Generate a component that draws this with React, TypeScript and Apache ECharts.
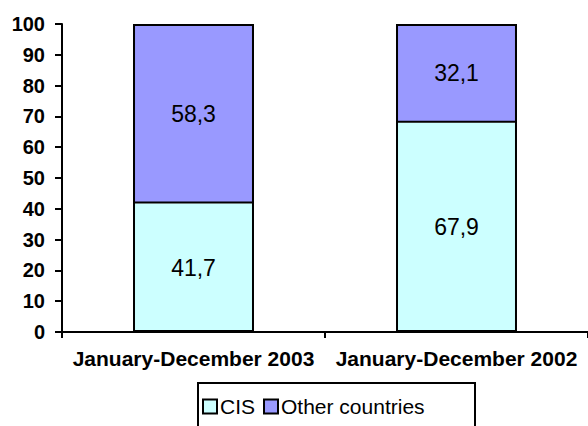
import React, { useEffect, useRef } from "react";
import * as echarts from "echarts";

const categories = ["January-December 2003", "January-December 2002"];
const cisValues = [41.7, 67.9];
const otherValues = [58.3, 32.1];
const seriesNames = ["CIS", "Other countries"];

const FONT = "Arial, 'Liberation Sans', Helvetica, sans-serif";

export default function App() {
  const ref = useRef<HTMLDivElement>(null);
  useEffect(() => {
    if (!ref.current) return;
    const chart = echarts.init(ref.current, undefined, { renderer: "svg" });
    const labelFmt = (p: any) => String(p.value).replace(".", ",");
    const totals = cisValues.map((v, i) => Math.round((v + otherValues[i]) * 10) / 10);
    chart.setOption({
      animation: false,
      backgroundColor: "#ffffff",
      textStyle: { fontFamily: FONT },
      grid: { left: 62, width: 532, top: 24, height: 308, containLabel: false },
      legend: {
        left: 202,
        top: 396,
        itemWidth: 14,
        itemHeight: 14,
        itemGap: 8,
        padding: 0,
        data: seriesNames,
        icon: "rect",
        textStyle: { fontSize: 21, color: "#000", fontFamily: FONT, padding: [0, 0, 0, -2] },
        itemStyle: { borderColor: "#000", borderWidth: 2 },
      },
      graphic: [
        {
          type: "rect",
          shape: { x: 198, y: 383, width: 277, height: 60 },
          style: { fill: "none", stroke: "#000", lineWidth: 2 },
          z: 100,
        },
      ],
      xAxis: {
        type: "category",
        data: categories,
        boundaryGap: true,
        axisLine: { lineStyle: { color: "#000", width: 2 } },
        axisTick: { show: true, length: 6, lineStyle: { color: "#000", width: 2 } },
        axisLabel: { color: "#000", fontSize: 21, fontWeight: "bold", fontFamily: FONT, margin: 16, interval: 0 },
      },
      yAxis: {
        type: "value",
        min: 0,
        max: 100,
        interval: 10,
        splitLine: { show: false },
        axisLine: { show: true, lineStyle: { color: "#000", width: 2 } },
        axisTick: { show: true, length: 7, lineStyle: { color: "#000", width: 2 } },
        axisLabel: { color: "#000", fontSize: 20, fontWeight: "bold", fontFamily: FONT, margin: 17 },
      },
      series: [
        {
          name: seriesNames[0],
          type: "bar",
          stack: "total",
          data: cisValues,
          barWidth: "46%",
          barGap: "-100%",
          itemStyle: { color: "#CCFFFF", borderWidth: 0 },
          label: { show: true, position: "inside", color: "#000", fontSize: 23, fontFamily: FONT, formatter: labelFmt },
        },
        {
          name: seriesNames[1],
          type: "bar",
          stack: "total",
          data: otherValues,
          barWidth: "46%",
          barGap: "-100%",
          itemStyle: { color: "#9999FF", borderColor: "#000", borderWidth: 2 },
          label: { show: true, position: "inside", color: "#000", fontSize: 23, fontFamily: FONT, formatter: labelFmt },
        },
        {
          name: "outline",
          type: "bar",
          data: totals,
          barWidth: "46%",
          barGap: "-100%",
          z: 5,
          silent: true,
          itemStyle: { color: "rgba(0,0,0,0)", borderColor: "#000", borderWidth: 2 },
          label: { show: false },
        },
      ],
    });
    return () => chart.dispose();
  }, []);
  return <div ref={ref} style={{ width: 588, height: 426, position: "fixed", left: 0, top: 0 }} />;
}
